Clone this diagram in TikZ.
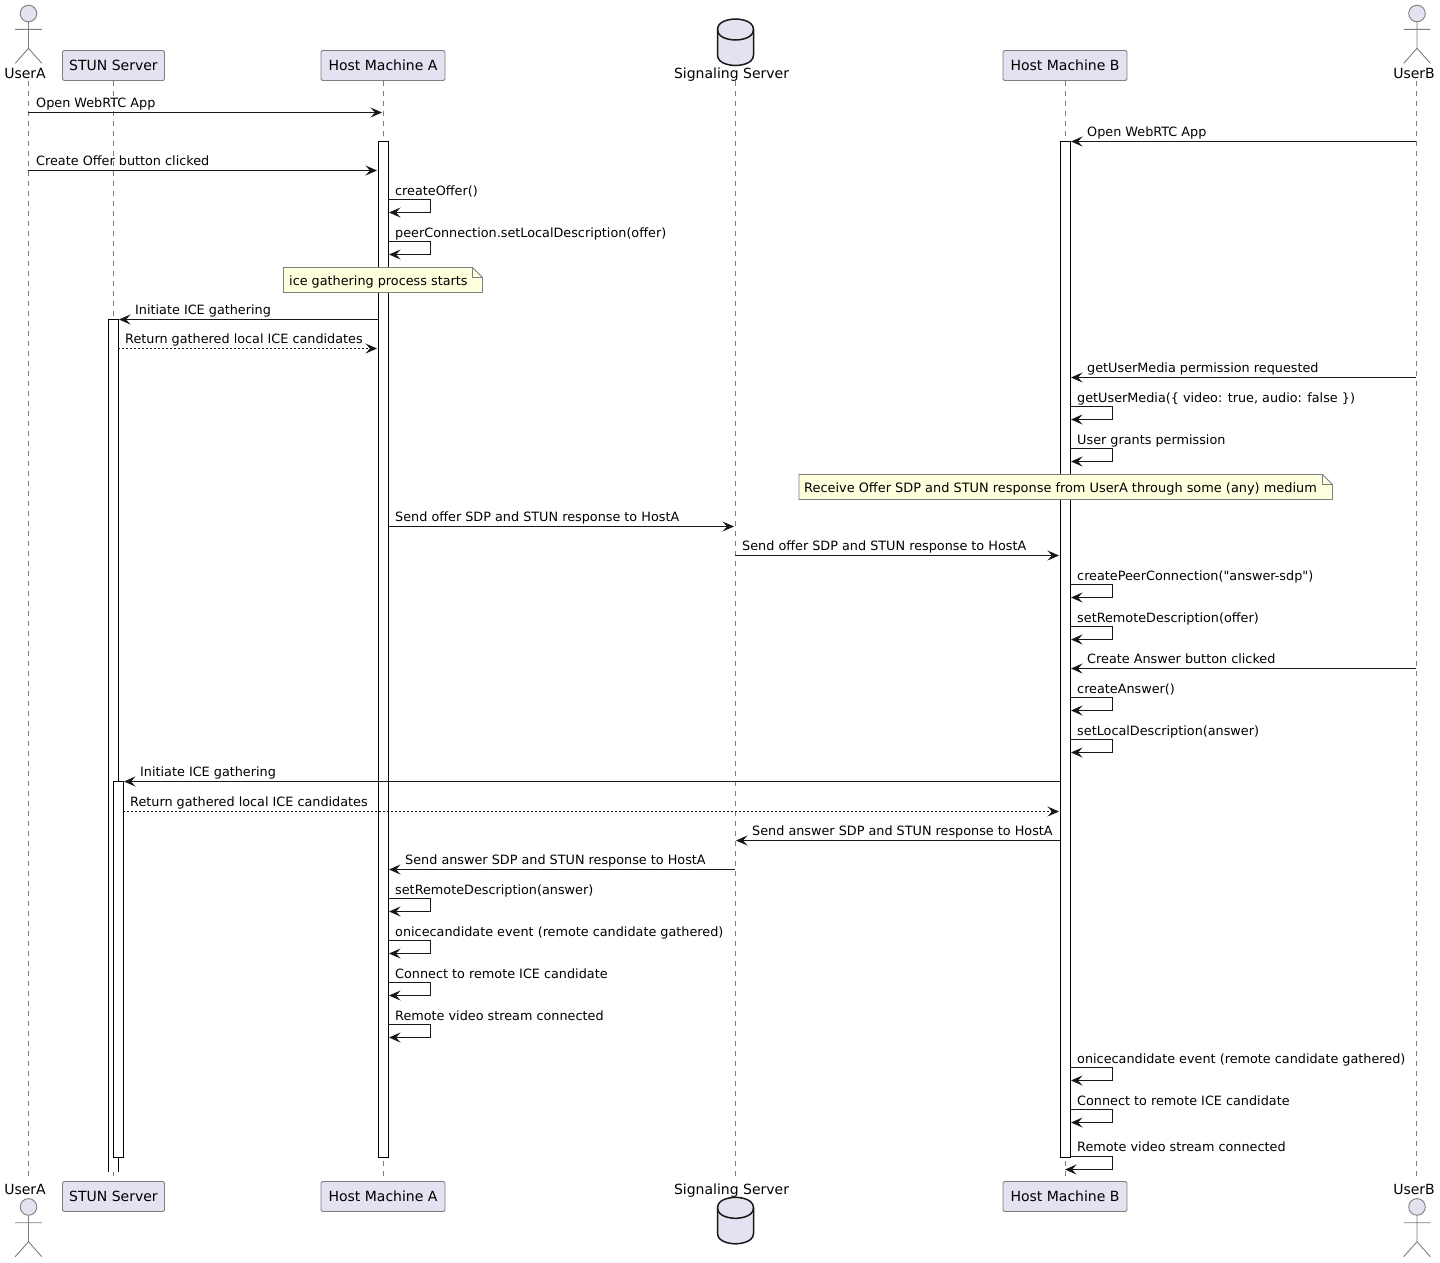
\documentclass[tikz,border=0pt]{standalone}
\usepackage{fontspec}
\setmainfont{DejaVu Sans}
\newfontfamily\plainquote{DejaVu Sans}
\usetikzlibrary{arrows.meta}
\definecolor{partfill}{HTML}{E2E2F0}
\definecolor{linedark}{HTML}{181818}
\definecolor{linegray}{HTML}{7E7E7E}
\definecolor{notefill}{HTML}{FEFFDD}
\tikzset{>={Stealth[length=11.5pt,width=10pt,inset=4.5pt]}}
\tikzset{
  partbox/.style={draw=linegray, line width=0.9pt, fill=partfill, rounded corners=2pt,
    minimum height=30pt, inner sep=0pt, font=\fontsize{14}{16}\selectfont},
  partname/.style={anchor=base, inner sep=0pt, font=\fontsize{14}{16}\selectfont},
  msgtext/.style={anchor=base west, inner sep=0pt, font=\fontsize{12.8}{15}\selectfont},
  lifeline/.style={draw=linegray, line width=0.9pt, dash pattern=on 5pt off 5pt},
  msg/.style={draw=linedark, line width=1pt, ->},
  actorline/.style={draw=linegray, line width=0.9pt},
  actbar/.style={draw=black, line width=1pt, fill=white},
  notepath/.style={draw=linegray, line width=0.9pt, fill=notefill},
}

\begin{document}
\begin{tikzpicture}[x=1pt, y=-1pt]
  \useasboundingbox (0,0) rectangle (1440,1262);

  % participants, top and bottom row
  \node[partbox, minimum width=102pt] (stun) at (113.5,65.5) {STUN Server};
  \node[partbox, minimum width=124pt] (hosta) at (383,65.5) {Host Machine A};
  \node[partbox, minimum width=124pt] (hostb) at (1065,65.5) {Host Machine B};
  \node[partbox, minimum width=102pt] (stunb) at (113.5,1196.5) {STUN Server};
  \node[partbox, minimum width=124pt] (hostab) at (383,1196.5) {Host Machine A};
  \node[partbox, minimum width=124pt] (hostbb) at (1065,1196.5) {Host Machine B};
  \node[partname] (usera) at (25,78) {UserA};
  \node[partname] (userb) at (1414,78) {UserB};
  \node[partname] (sig) at (731.5,78) {Signaling Server};
  \node[partname] (userab) at (25,1194) {UserA};
  \node[partname] (userbb) at (1414,1194) {UserB};
  \node[partname] (sigb) at (731.5,1194) {Signaling Server};

  % lifelines
  \foreach \lname/\xx/\yend in {useraline/28/1181, stunline/113/1177, hostaline/383/1177, sigline/735/1181, hostbline/1065/1177, userbline/1416/1181} {
    \coordinate (\lname top) at (\xx,81);
    \coordinate (\lname end) at (\xx,\yend);
    \draw[lifeline] (\lname top) -- (\lname end);
  }

  % actors
  \foreach \xx/\yy in {28.5/0, 1417/0, 28.5/1193.4, 1417/1193.4} {
    \begin{scope}[shift={(\xx,\yy)}]
      \draw[actorline, fill=partfill] (0,13.5) circle (8.3pt);
      \draw[actorline] (0,21.8) -- (0,48.3) (-13.3,29.3) -- (13.3,29.3)
        (-13.3,63.3) -- (0,48.3) -- (13.3,63.3);
    \end{scope}
  }

  % database
  \foreach \yy in {0, 1178.3} {
    \begin{scope}[shift={(735.5,\yy)}]
      \draw[draw=linedark, line width=1.5pt, fill=partfill]
        (-18,29.5) .. controls (-18,19) and (0,19) .. (0,19)
        .. controls (0,19) and (18,19) .. (18,29.5) -- (18,55)
        .. controls (18,65.5) and (0,65.5) .. (0,65.5)
        .. controls (0,65.5) and (-18,65.5) .. (-18,55) -- cycle;
      \draw[draw=linedark, line width=1.5pt]
        (-18,29.5) .. controls (-18,40) and (0,40) .. (0,40)
        .. controls (0,40) and (18,40) .. (18,29.5);
    \end{scope}
  }

  % activation bars
  \fill[white] (108.5,319) rectangle (118.5,1172);
  \draw[actbar, fill=none] (108.5,1172) -- (108.5,319) -- (118.5,319) -- (118.5,1172);
  \draw[actbar] (113.5,781.5) rectangle (123.5,1157.5);
  \draw[actbar] (378,141.5) rectangle (388,1157.5);
  \draw[actbar] (1060,141.5) rectangle (1070,1157.5);

  % straight messages: name / from / to / y / label x / label
  \foreach \n/\xa/\xb/\yy/\lx/\txt in {
    a/28/382/112.5/36/Open WebRTC App,
    b/1416/1071/141.5/1087/Open WebRTC App,
    c/28/377/170.5/36/Create Offer button clicked,
    d/378/119/319.5/135/Initiate ICE gathering,
    f/1416/1071/377.5/1087/getUserMedia permission requested,
    g/388/734/526.5/395/Send offer SDP and STUN response to HostA,
    h/735/1059/555.5/742/Send offer SDP and STUN response to HostA,
    i/1416/1071/668.5/1087/Create Answer button clicked,
    j/1060/124/781.5/140/Initiate ICE gathering,
    l/1060/736/840.5/752/Send answer SDP and STUN response to HostA,
    m/735/389/869.5/405/Send answer SDP and STUN response to HostA
  } {
    \coordinate (msg\n from) at (\xa,\yy);
    \coordinate (msg\n to) at (\xb,\yy);
    \draw[msg] (msg\n from) -- (msg\n to);
    \node[msgtext] (msg\n text) at (\lx,\yy-4.7) {\txt};
  }

  % replies
  \foreach \n/\xa/\xb/\yy/\lx/\txt in {
    e/118/377/348.5/125/Return gathered local ICE candidates,
    k/123/1059/811.5/130/Return gathered local ICE candidates
  } {
    \coordinate (msg\n from) at (\xa,\yy);
    \coordinate (msg\n to) at (\xb,\yy);
    \draw[msg, dash pattern=on 2pt off 2pt] (msg\n from) -- (msg\n to);
    \node[msgtext] (msg\n text) at (\lx,\yy-4.7) {\txt};
  }

  % self messages: name / x / y / label
  \foreach \n/\xx/\yy/\txt in {
    sa/388/199.5/createOffer(),
    sb/388/241.5/peerConnection.setLocalDescription(offer),
    sc/1070/406.5/{getUserMedia(\{ video: true, audio: false \})},
    sd/1070/448.5/User grants permission,
    se/1070/584.5/{createPeerConnection({\plainquote"}answer-sdp{\plainquote"})},
    sf/1070/626.5/setRemoteDescription(offer),
    sg/1070/697.5/createAnswer(),
    sh/1070/739.5/setLocalDescription(answer),
    si/388/898.5/setRemoteDescription(answer),
    sj/388/940.5/onicecandidate event (remote candidate gathered),
    sk/388/982.5/Connect to remote ICE candidate,
    sl/388/1024.5/Remote video stream connected,
    sm/1070/1067.5/onicecandidate event (remote candidate gathered),
    sn/1070/1109.5/Connect to remote ICE candidate
  } {
    \coordinate (\n from) at (\xx,\yy);
    \coordinate (\n to) at (\xx+1,\yy+13);
    \draw[msg] (\n from) -- (\xx+42,\yy) -- (\xx+42,\yy+13) -- (\n to);
    \node[msgtext] (\n text) at (\xx+7,\yy-4.2) {\txt};
  }
  \coordinate (sofrom) at (1070,1156.5);
  \coordinate (soto) at (1065,1169.5);
  \draw[msg] (sofrom) -- (1112,1156.5) -- (1112,1169.5) -- (soto);
  \node[msgtext] (sotext) at (1077,1151.8) {Remote video stream connected};

  % notes
  \draw[notepath] (283.5,267.5) -- (472.5,267.5) -- (482.5,277.5) -- (482.5,292.5) -- (283.5,292.5) -- cycle;
  \draw[actorline] (472.5,267.5) -- (472.5,277.5) -- (482.5,277.5);
  \node[msgtext] (noteice) at (289,285) {ice gathering process starts};
  \draw[notepath] (799,474.5) -- (1322.5,474.5) -- (1332.5,484.5) -- (1332.5,499.5) -- (799,499.5) -- cycle;
  \draw[actorline] (1322.5,474.5) -- (1322.5,484.5) -- (1332.5,484.5);
  \node[msgtext, font=\fontsize{12.9}{15}\selectfont] (noteoffer) at (804,492) {Receive Offer SDP and STUN response from UserA through some (any) medium};
\end{tikzpicture}
\end{document}
